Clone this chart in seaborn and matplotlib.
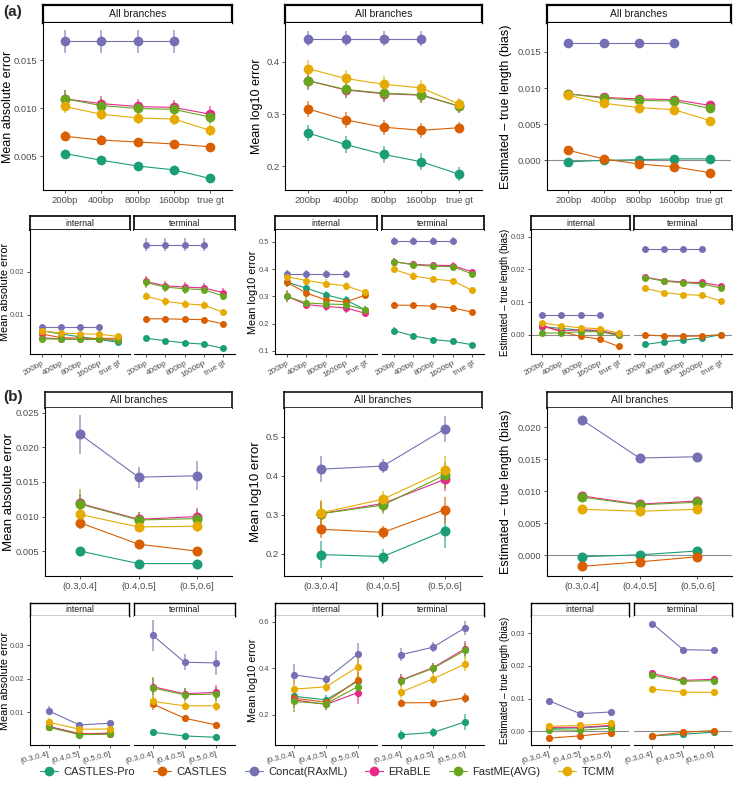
import numpy as np
import pandas as pd
import matplotlib
matplotlib.use("Agg")
import matplotlib.pyplot as plt
from matplotlib.lines import Line2D
import seaborn as sns

sns.set_style("white")
plt.rcParams["font.family"] = ["Liberation Sans", "DejaVu Sans"]

methods = ["CASTLES-Pro", "CASTLES", "Concat(RAxML)", "ERaBLE", "FastME(AVG)", "TCMM"]
colors = ["#1B9E77", "#D95F02", "#7570B3", "#E7298A", "#66A61E", "#E6AB02"]
palette = dict(zip(methods, colors))

genes = ["200bp", "400bp", "800bp", "1600bp", "true gt"]
ils = ["(0.3,0.4]", "(0.4,0.5]", "(0.5,0.6]"]

# ---- (a) all branches, series in the order of `methods`
a_mae = [[0.0053, 0.0046, 0.0040, 0.0036, 0.0027],
         [0.0071, 0.0067, 0.0065, 0.0063, 0.0060],
         [0.0170, 0.0170, 0.0170, 0.0170],
         [0.0110, 0.0105, 0.0102, 0.0101, 0.0094],
         [0.0110, 0.0103, 0.0100, 0.0099, 0.0091],
         [0.0102, 0.0094, 0.0090, 0.0089, 0.0077]]
a_mae_err = [[0.0004, 0.0003, 0.0003, 0.0003, 0.0002],
             [0.0005, 0.0005, 0.0004, 0.0004, 0.0004],
             [0.0012, 0.0012, 0.0012, 0.0012],
             [0.0009, 0.0008, 0.0008, 0.0008, 0.0008],
             [0.0009, 0.0008, 0.0008, 0.0008, 0.0007],
             [0.0007, 0.0006, 0.0006, 0.0006, 0.0006]]
a_log = [[0.264, 0.242, 0.223, 0.209, 0.185],
         [0.310, 0.289, 0.275, 0.269, 0.274],
         [0.444, 0.444, 0.444, 0.444],
         [0.364, 0.346, 0.339, 0.336, 0.315],
         [0.364, 0.347, 0.340, 0.337, 0.315],
         [0.387, 0.368, 0.357, 0.350, 0.319]]
a_log_err = [[0.016, 0.016, 0.016, 0.016, 0.013],
             [0.015, 0.015, 0.014, 0.014, 0.010],
             [0.014, 0.014, 0.014, 0.014],
             [0.017, 0.016, 0.015, 0.015, 0.012],
             [0.018, 0.017, 0.016, 0.016, 0.013],
             [0.016, 0.016, 0.015, 0.015, 0.012]]
a_bias = [[-0.0002, 0.0000, 0.0001, 0.0002, 0.0002],
          [0.0014, 0.0002, -0.0005, -0.0009, -0.0017],
          [0.0163, 0.0163, 0.0163, 0.0163],
          [0.0092, 0.0087, 0.0085, 0.0084, 0.0076],
          [0.0092, 0.0086, 0.0083, 0.0082, 0.0072],
          [0.0090, 0.0079, 0.0073, 0.0070, 0.0055]]

# ---- (a) internal / terminal
a_mae_int = [[0.0062, 0.0055, 0.0048, 0.0042, 0.0035],
             [0.0055, 0.0046, 0.0045, 0.0044, 0.0045],
             [0.0072, 0.0072, 0.0072, 0.0072],
             [0.0046, 0.0043, 0.0042, 0.0042, 0.0040],
             [0.0043, 0.0043, 0.0042, 0.0042, 0.0040],
             [0.0062, 0.0057, 0.0055, 0.0054, 0.0049]]
a_mae_int_err = [[0.0003, 0.0003, 0.0003, 0.0003, 0.0002],
                 [0.0004, 0.0003, 0.0003, 0.0003, 0.0003],
                 [0.0004, 0.0004, 0.0004, 0.0004],
                 [0.0004, 0.0003, 0.0003, 0.0003, 0.0003],
                 [0.0004, 0.0003, 0.0003, 0.0003, 0.0003],
                 [0.0005, 0.0004, 0.0004, 0.0004, 0.0004]]
a_mae_term = [[0.0045, 0.0039, 0.0034, 0.0031, 0.0021],
              [0.0090, 0.0090, 0.0089, 0.0088, 0.0078],
              [0.0263, 0.0263, 0.0263, 0.0263],
              [0.0177, 0.0167, 0.0164, 0.0162, 0.0151],
              [0.0175, 0.0164, 0.0160, 0.0158, 0.0143],
              [0.0143, 0.0131, 0.0125, 0.0122, 0.0105]]
a_mae_term_err = [[0.0003, 0.0003, 0.0003, 0.0003, 0.0002],
                  [0.0005, 0.0005, 0.0005, 0.0005, 0.0004],
                  [0.0015, 0.0015, 0.0015, 0.0015],
                  [0.0012, 0.0011, 0.0011, 0.0011, 0.0010],
                  [0.0013, 0.0011, 0.0011, 0.0011, 0.0010],
                  [0.0010, 0.0010, 0.0009, 0.0009, 0.0008]]
a_log_int = [[0.352, 0.330, 0.306, 0.287, 0.251],
             [0.352, 0.312, 0.287, 0.279, 0.305],
             [0.381, 0.381, 0.381, 0.381],
             [0.300, 0.270, 0.263, 0.258, 0.238],
             [0.300, 0.276, 0.272, 0.270, 0.251],
             [0.372, 0.358, 0.347, 0.339, 0.315]]
a_log_int_err = [[0.016, 0.016, 0.015, 0.015, 0.012],
                 [0.016, 0.015, 0.015, 0.015, 0.012],
                 [0.014, 0.014, 0.014, 0.014],
                 [0.020, 0.018, 0.018, 0.018, 0.014],
                 [0.022, 0.020, 0.018, 0.018, 0.014],
                 [0.015, 0.015, 0.015, 0.015, 0.012]]
a_log_term = [[0.175, 0.155, 0.142, 0.135, 0.123],
              [0.268, 0.267, 0.264, 0.258, 0.242],
              [0.504, 0.504, 0.504, 0.504],
              [0.427, 0.417, 0.414, 0.413, 0.390],
              [0.427, 0.416, 0.410, 0.409, 0.382],
              [0.399, 0.375, 0.363, 0.357, 0.322]]
a_log_term_err = [[0.012, 0.011, 0.010, 0.010, 0.008],
                  [0.010, 0.010, 0.010, 0.010, 0.008],
                  [0.012, 0.012, 0.012, 0.012],
                  [0.014, 0.013, 0.013, 0.013, 0.011],
                  [0.015, 0.014, 0.013, 0.013, 0.012],
                  [0.013, 0.013, 0.012, 0.012, 0.010]]
a_bias_int = [[0.0025, 0.0020, 0.0015, 0.0012, 0.0002],
              [0.0027, 0.0010, -0.0004, -0.0013, -0.0035],
              [0.0062, 0.0062, 0.0062, 0.0062],
              [0.0028, 0.0012, 0.0016, 0.0014, 0.0000],
              [0.0006, 0.0006, 0.0010, 0.0010, -0.0001],
              [0.0037, 0.0028, 0.0022, 0.0019, 0.0006]]
a_bias_term = [[-0.0029, -0.0021, -0.0015, -0.0010, 0.0001],
               [0.0000, -0.0003, -0.0004, -0.0003, 0.0001],
               [0.0263, 0.0263, 0.0263, 0.0263],
               [0.0176, 0.0166, 0.0161, 0.0160, 0.0150],
               [0.0175, 0.0164, 0.0159, 0.0156, 0.0143],
               [0.0142, 0.0129, 0.0123, 0.0121, 0.0104]]

# ---- (b) all branches
b_mae = [[0.0050, 0.0032, 0.0032],
         [0.0091, 0.0060, 0.0050],
         [0.0219, 0.0157, 0.0159],
         [0.0119, 0.0096, 0.0100],
         [0.0118, 0.0095, 0.0097],
         [0.0103, 0.0085, 0.0086]]
b_mae_err = [[0.0006, 0.0004, 0.0004],
             [0.0009, 0.0006, 0.0006],
             [0.0028, 0.0015, 0.0021],
             [0.0013, 0.0010, 0.0013],
             [0.0022, 0.0011, 0.0012],
             [0.0009, 0.0008, 0.0009]]
b_log = [[0.198, 0.193, 0.259],
         [0.263, 0.255, 0.313],
         [0.417, 0.425, 0.520],
         [0.303, 0.329, 0.391],
         [0.303, 0.325, 0.402],
         [0.305, 0.340, 0.414]]
b_log_err = [[0.034, 0.019, 0.043],
             [0.022, 0.017, 0.033],
             [0.034, 0.017, 0.033],
             [0.030, 0.022, 0.030],
             [0.032, 0.022, 0.034],
             [0.033, 0.020, 0.036]]
b_bias = [[-0.0002, 0.0001, 0.0007],
          [-0.0017, -0.0010, -0.0002],
          [0.0212, 0.0152, 0.0154],
          [0.0093, 0.0080, 0.0085],
          [0.0091, 0.0079, 0.0083],
          [0.0072, 0.0069, 0.0072]]

# ---- (b) internal / terminal
b_mae_int = [[0.0058, 0.0036, 0.0038],
             [0.0057, 0.0037, 0.0038],
             [0.0105, 0.0063, 0.0068],
             [0.0059, 0.0035, 0.0037],
             [0.0056, 0.0034, 0.0035],
             [0.0071, 0.0050, 0.0051]]
b_mae_int_err = [[0.0005, 0.0003, 0.0003],
                 [0.0006, 0.0003, 0.0003],
                 [0.0013, 0.0006, 0.0008],
                 [0.0006, 0.0003, 0.0004],
                 [0.0006, 0.0003, 0.0004],
                 [0.0012, 0.0006, 0.0007]]
b_mae_term = [[0.0041, 0.0030, 0.0026],
              [0.0125, 0.0083, 0.0063],
              [0.0330, 0.0250, 0.0248],
              [0.0177, 0.0156, 0.0160],
              [0.0173, 0.0153, 0.0155],
              [0.0133, 0.0120, 0.0120]]
b_mae_term_err = [[0.0005, 0.0003, 0.0003],
                  [0.0018, 0.0008, 0.0006],
                  [0.0045, 0.0024, 0.0035],
                  [0.0025, 0.0018, 0.0022],
                  [0.0033, 0.0020, 0.0022],
                  [0.0017, 0.0014, 0.0016]]
b_log_int = [[0.280, 0.265, 0.345],
             [0.272, 0.255, 0.350],
             [0.372, 0.353, 0.462],
             [0.265, 0.245, 0.296],
             [0.258, 0.248, 0.322],
             [0.311, 0.321, 0.407]]
b_log_int_err = [[0.035, 0.020, 0.040],
                 [0.030, 0.020, 0.040],
                 [0.045, 0.020, 0.045],
                 [0.035, 0.025, 0.050],
                 [0.045, 0.025, 0.045],
                 [0.040, 0.022, 0.045]]
b_log_term = [[0.115, 0.125, 0.170],
              [0.252, 0.253, 0.273],
              [0.459, 0.491, 0.574],
              [0.350, 0.403, 0.484],
              [0.348, 0.400, 0.477],
              [0.298, 0.355, 0.418]]
b_log_term_err = [[0.022, 0.018, 0.035],
                  [0.018, 0.016, 0.022],
                  [0.028, 0.022, 0.030],
                  [0.025, 0.022, 0.032],
                  [0.025, 0.022, 0.032],
                  [0.025, 0.022, 0.030]]
b_bias_int = [[0.0009, 0.0010, 0.0016],
              [-0.0021, -0.0014, -0.0005],
              [0.0093, 0.0054, 0.0059],
              [0.0012, 0.0012, 0.0018],
              [0.0005, 0.0003, 0.0009],
              [0.0015, 0.0018, 0.0024]]
b_bias_term = [[-0.0014, -0.0009, -0.0003],
               [-0.0014, -0.0003, 0.0002],
               [0.0330, 0.0250, 0.0248],
               [0.0177, 0.0156, 0.0159],
               [0.0172, 0.0153, 0.0155],
               [0.0129, 0.0120, 0.0119]]

W, H = 736, 795
GRAY = "#4D4D4D"
fig = plt.figure(figsize=(W / 100, H / 100), dpi=100)


def box(x0, y0, x1, y1):
    return fig.add_axes([x0 / W, 1 - y1 / H, (x1 - x0) / W, (y1 - y0) / H])


def strip(x0, y0, x1, y1, label, lw, fs):
    s = box(x0, y0, x1, y1)
    s.set_xticks([])
    s.set_yticks([])
    s.set_facecolor("white")
    for sp in s.spines.values():
        sp.set_visible(True)
        sp.set_linewidth(lw)
        sp.set_color("black")
    s.text(0.5, 0.5, label, ha="center", va="center", fontsize=fs,
           color="#1A1A1A", transform=s.transAxes)


def ylab(x, y0, y1, label, fs):
    fig.text(x / W, 1 - (y0 + y1) / 2 / H, label, rotation=90, ha="center",
             va="center", fontsize=fs, color="black")


def draw(ax, cats, vals, errs, ylim, yt, ytl, ms, fs, xfs, rot=0, zero=False, show_y=True):
    rows = [(m, i, v) for m, series in zip(methods, vals) for i, v in enumerate(series)]
    df = pd.DataFrame(rows, columns=["method", "pos", "value"])
    if zero:
        ax.axhline(0, color="#8C8C8C", lw=0.8, zorder=0)
    if errs is not None:
        for m, series, e in zip(methods, vals, errs):
            ax.errorbar(np.arange(len(series)), series, yerr=e, fmt="none",
                        ecolor=palette[m], elinewidth=1.1, alpha=0.7, capsize=0, zorder=1)
    sns.lineplot(data=df, x="pos", y="value", hue="method", hue_order=methods,
                 palette=palette, estimator=None, sort=False, lw=0.8, marker="o",
                 markersize=ms, markeredgewidth=0, legend=False, ax=ax)
    ax.set_xlim(-0.6, len(cats) - 0.4)
    ax.set_ylim(*ylim)
    ax.set_xticks(np.arange(len(cats)))
    if rot:
        ax.set_xticklabels(cats, fontsize=xfs, color=GRAY, rotation=rot,
                           ha="right", rotation_mode="anchor")
    else:
        ax.set_xticklabels(cats, fontsize=xfs, color=GRAY)
    if show_y:
        ax.set_yticks(yt)
        ax.set_yticklabels(ytl, fontsize=fs, color=GRAY)
    else:
        ax.set_yticks([])
        ax.spines["left"].set_visible(False)
    ax.spines["top"].set_visible(False)
    ax.spines["right"].set_visible(False)
    for sp in ("left", "bottom"):
        ax.spines[sp].set_linewidth(0.8)
        ax.spines[sp].set_color("black")
    ax.tick_params(axis="both", length=2.5, width=0.6, color="#333333", pad=1.5,
                   left=show_y, bottom=True)
    ax.set_xlabel("")
    ax.set_ylabel("")
    ax.set_facecolor("white")


lab_mae = "Mean absolute error"
lab_log = "Mean log10 error"
lab_bias = "Estimated – true length (bias)"

# ---------------- row 1: (a) all branches
big = [(43, 232), (285, 482), (547, 731)]
lab_x_big = [8, 257, 506]
r1 = [(a_mae, a_mae_err, (0.0015, 0.0189), [0.005, 0.010, 0.015], ["0.005", "0.010", "0.015"], lab_mae, False),
      (a_log, a_log_err, (0.155, 0.474), [0.2, 0.3, 0.4], ["0.2", "0.3", "0.4"], lab_log, False),
      (a_bias, None, (-0.0041, 0.019), [0.0, 0.005, 0.010, 0.015], ["0.000", "0.005", "0.010", "0.015"], lab_bias, True)]
for (x0, x1), lx, (v, e, yl, yt, ytl, lab, z) in zip(big, lab_x_big, r1):
    strip(x0, 5, x1, 23, "All branches", 1.6, 7.5)
    ax = box(x0, 23, x1, 190)
    draw(ax, genes, v, e, yl, yt, ytl, ms=7, fs=6.8, xfs=6.8, zero=z)
    ylab(lx, 23, 190, lab, 9)

# ---------------- row 2: (a) internal / terminal
small = [((30, 130), (134, 235)), ((275, 377), (382, 484)), ((531, 630), (634, 732))]
lab_x_small = [5, 253, 505]
r2 = [((a_mae_int, a_mae_int_err), (a_mae_term, a_mae_term_err), (0.0008, 0.0297), [0.01, 0.02], ["0.01", "0.02"], lab_mae, False),
      ((a_log_int, a_log_int_err), (a_log_term, a_log_term_err), (0.089, 0.543), [0.1, 0.2, 0.3, 0.4, 0.5], ["0.1", "0.2", "0.3", "0.4", "0.5"], lab_log, False),
      ((a_bias_int, None), (a_bias_term, None), (-0.0058, 0.032), [0.0, 0.01, 0.02, 0.03], ["0.00", "0.01", "0.02", "0.03"], lab_bias, True)]
for (p_int, p_term), lx, (d_int, d_term, yl, yt, ytl, lab, z) in zip(small, lab_x_small, r2):
    for (x0, x1), (v, e), name, first in ((p_int, d_int, "internal", True), (p_term, d_term, "terminal", False)):
        strip(x0, 216, x1, 230, name, 1.2, 6.3)
        ax = box(x0, 230, x1, 354)
        draw(ax, genes, v, e, yl, yt, ytl, ms=5, fs=5.4, xfs=5.9, rot=30, zero=z, show_y=first)
    ylab(lx, 230, 354, lab, 7 if z else 7.8)

# ---------------- row 3: (b) all branches
big_b = [(45, 232), (284, 482), (547, 732)]
lab_x_big_b = [9, 256, 506]
r3 = [(b_mae, b_mae_err, (0.0014, 0.0257), [0.005, 0.010, 0.015, 0.020, 0.025], ["0.005", "0.010", "0.015", "0.020", "0.025"], lab_mae, False),
      (b_log, b_log_err, (0.143, 0.574), [0.2, 0.3, 0.4, 0.5], ["0.2", "0.3", "0.4", "0.5"], lab_log, False),
      (b_bias, None, (-0.0032, 0.023), [0.0, 0.005, 0.010, 0.015, 0.020], ["0.000", "0.005", "0.010", "0.015", "0.020"], lab_bias, True)]
for (x0, x1), lx, (v, e, yl, yt, ytl, lab, z) in zip(big_b, lab_x_big_b, r3):
    strip(x0, 392, x1, 408, "All branches", 1.1, 7.5)
    ax = box(x0, 408, x1, 576)
    draw(ax, ils, v, e, yl, yt, ytl, ms=7.2, fs=6.8, xfs=6.8, zero=z)
    ylab(lx, 408, 576, lab, 9.5 if not z else 9)

# ---------------- row 4: (b) internal / terminal
small_b = [((30, 129), (134, 235)), ((275, 377), (382, 484)), ((531, 629), (634, 732))]
r4 = [((b_mae_int, b_mae_int_err), (b_mae_term, b_mae_term_err), (0.0003, 0.0388), [0.01, 0.02, 0.03], ["0.01", "0.02", "0.03"], lab_mae, False),
      ((b_log_int, b_log_int_err), (b_log_term, b_log_term_err), (0.071, 0.625), [0.2, 0.4, 0.6], ["0.2", "0.4", "0.6"], lab_log, False),
      ((b_bias_int, None), (b_bias_term, None), (-0.0042, 0.0353), [0.0, 0.01, 0.02, 0.03], ["0.00", "0.01", "0.02", "0.03"], lab_bias, True)]
for (p_int, p_term), lx, (d_int, d_term, yl, yt, ytl, lab, z) in zip(small_b, lab_x_small, r4):
    for (x0, x1), (v, e), name, first in ((p_int, d_int, "internal", True), (p_term, d_term, "terminal", False)):
        strip(x0, 603, x1, 616, name, 1.0, 6.3)
        ax = box(x0, 616, x1, 745)
        draw(ax, ils, v, e, yl, yt, ytl, ms=5.2, fs=5.4, xfs=5.8, rot=15, zero=z, show_y=first)
    ylab(lx, 616, 745, lab, 7 if z else 7.8)

fig.text(3 / W, 1 - 12 / H, "(a)", fontsize=11, fontweight="bold", va="center")
fig.text(3 / W, 1 - 397 / H, "(b)", fontsize=11, fontweight="bold", va="center")

handles = [Line2D([0], [0], color=c, lw=0.8, marker="o", markersize=7, markeredgewidth=0)
           for c in colors]
fig.legend(handles, methods, loc="center", bbox_to_anchor=(0.445, 1 - 772 / H),
           ncol=6, frameon=False, fontsize=8, handlelength=1.6, handletextpad=0.5,
           columnspacing=1.6)

fig.savefig("out.png", dpi=100, facecolor="white")
